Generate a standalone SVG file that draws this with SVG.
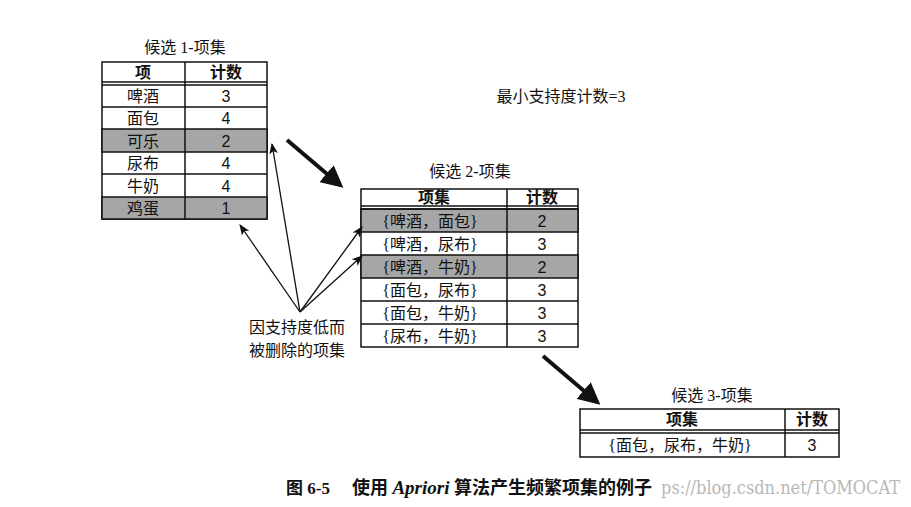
<svg xmlns="http://www.w3.org/2000/svg" width="911" height="507" viewBox="0 0 911 507">
<style>
.bg{fill:#ffffff}
.cell{fill:#ffffff;stroke:#111;stroke-width:1.5}
.gray{fill:#a6a6a6;stroke:#111;stroke-width:1.5}
.ln{stroke:#111;stroke-width:1.5;fill:none}
.t{font-family:"Liberation Serif","Noto Sans CJK SC",serif;font-size:16px;fill:#111;text-anchor:middle}
.h{font-family:"Noto Sans CJK SC",sans-serif;font-size:16px;font-weight:bold;fill:#111;text-anchor:middle}
.ttl{font-family:"Liberation Serif","Noto Sans CJK SC",serif;font-size:16px;fill:#111;text-anchor:middle}
.n{font-family:"Liberation Sans",sans-serif;font-size:16px;fill:#111;text-anchor:middle}
.thin{stroke:#111;stroke-width:1.3;fill:none}
.thick{stroke:#111;stroke-width:4;fill:none}
.cap{font-family:"Liberation Serif","Noto Sans CJK SC",serif;font-size:18px;font-weight:bold;fill:#111}
.wm{font-family:"DejaVu Serif Condensed","Liberation Serif",serif;font-size:18px;fill:#b8b8b8;text-anchor:end}
</style>
<defs>
<marker id="ah" viewBox="0 0 10 10" refX="9" refY="5" markerWidth="11" markerHeight="11" markerUnits="userSpaceOnUse" orient="auto">
<path d="M0,1 L10,5 L0,9 L2.5,5 Z" fill="#111"/>
</marker>
<marker id="ahb" viewBox="0 0 10 10" refX="8" refY="5" markerWidth="5.5" markerHeight="5.5" orient="auto">
<path d="M0,0 L10,5 L0,10 Z" fill="#111"/>
</marker>
</defs>
<rect class="bg" x="0" y="0" width="911" height="507"/>

<g id="table1">
<text class="ttl" x="185" y="53">候选 1-项集</text>
<rect class="cell" x="102" y="62" width="165" height="157"/>
<rect class="gray" x="102" y="129" width="165" height="23"/>
<rect class="gray" x="102" y="197" width="165" height="22"/>
<line class="ln" x1="102" y1="82" x2="267" y2="82"/>
<line class="ln" x1="102" y1="85" x2="267" y2="85"/>
<line class="ln" x1="102" y1="107" x2="267" y2="107"/>
<line class="ln" x1="102" y1="174" x2="267" y2="174"/>
<line class="ln" x1="185" y1="62" x2="185" y2="219"/>
<text class="h" x="143" y="78">项</text>
<text class="h" x="226" y="78">计数</text>
<text class="t" x="143" y="102">啤酒</text><text class="n" x="226" y="102">3</text>
<text class="t" x="143" y="124">面包</text><text class="n" x="226" y="124">4</text>
<text class="t" x="143" y="147">可乐</text><text class="n" x="226" y="147">2</text>
<text class="t" x="143" y="169">尿布</text><text class="n" x="226" y="169">4</text>
<text class="t" x="143" y="192">牛奶</text><text class="n" x="226" y="192">4</text>
<text class="t" x="143" y="214">鸡蛋</text><text class="n" x="226" y="214">1</text>
</g>

<g id="minsup">
<text class="ttl" x="561" y="102">最小支持度计数=3</text>
</g>

<g id="table2">
<text class="ttl" x="470" y="177">候选 2-项集</text>
<rect class="cell" x="361" y="189" width="217" height="158"/>
<rect class="gray" x="361" y="209" width="217" height="23"/>
<rect class="gray" x="361" y="255" width="217" height="23"/>
<line class="ln" x1="361" y1="206" x2="578" y2="206"/>
<line class="ln" x1="361" y1="209" x2="578" y2="209"/>
<line class="ln" x1="361" y1="301" x2="578" y2="301"/>
<line class="ln" x1="361" y1="324" x2="578" y2="324"/>
<line class="ln" x1="507" y1="189" x2="507" y2="347"/>
<text class="h" x="434" y="203">项集</text>
<text class="h" x="542" y="203">计数</text>
<text class="t" x="430" y="227">{啤酒，面包}</text><text class="n" x="542" y="227">2</text>
<text class="t" x="430" y="250">{啤酒，尿布}</text><text class="n" x="542" y="250">3</text>
<text class="t" x="430" y="273">{啤酒，牛奶}</text><text class="n" x="542" y="273">2</text>
<text class="t" x="430" y="296">{面包，尿布}</text><text class="n" x="542" y="296">3</text>
<text class="t" x="430" y="319">{面包，牛奶}</text><text class="n" x="542" y="319">3</text>
<text class="t" x="430" y="342">{尿布，牛奶}</text><text class="n" x="542" y="342">3</text>
</g>

<g id="table3">
<text class="ttl" x="712" y="401">候选 3-项集</text>
<rect class="cell" x="580" y="409" width="259" height="48"/>
<line class="ln" x1="580" y1="430" x2="839" y2="430"/>
<line class="ln" x1="580" y1="433" x2="839" y2="433"/>
<line class="ln" x1="785" y1="409" x2="785" y2="457"/>
<text class="h" x="682" y="425">项集</text>
<text class="h" x="812" y="425">计数</text>
<text class="t" x="680" y="451">{面包，尿布，牛奶}</text><text class="n" x="812" y="451">3</text>
</g>

<g id="note">
<text class="ttl" x="297" y="333">因支持度低而</text>
<text class="ttl" x="297" y="356">被删除的项集</text>
</g>

<g id="connectors">
<line class="thin" x1="300" y1="312" x2="272" y2="144" marker-end="url(#ah)"/>
<line class="thin" x1="300" y1="312" x2="240" y2="225" marker-end="url(#ah)"/>
<line class="thin" x1="300" y1="312" x2="362" y2="227" marker-end="url(#ah)"/>
<line class="thin" x1="300" y1="312" x2="362" y2="256" marker-end="url(#ah)"/>
<line class="thick" x1="287" y1="140" x2="340" y2="185" marker-end="url(#ahb)"/>
<line class="thick" x1="543" y1="356" x2="597" y2="402" marker-end="url(#ahb)"/>
</g>

<g id="caption">
<text class="wm" x="900" y="494">ps://blog.csdn.net/TOMOCAT</text>
<text class="cap" x="286" y="494"><tspan font-size="17px">图 6-5</tspan><tspan dx="22">使用 </tspan><tspan font-style="italic" font-size="19px">Apriori</tspan><tspan> 算法产生频繁项集的例子</tspan></text>
</g>
</svg>
